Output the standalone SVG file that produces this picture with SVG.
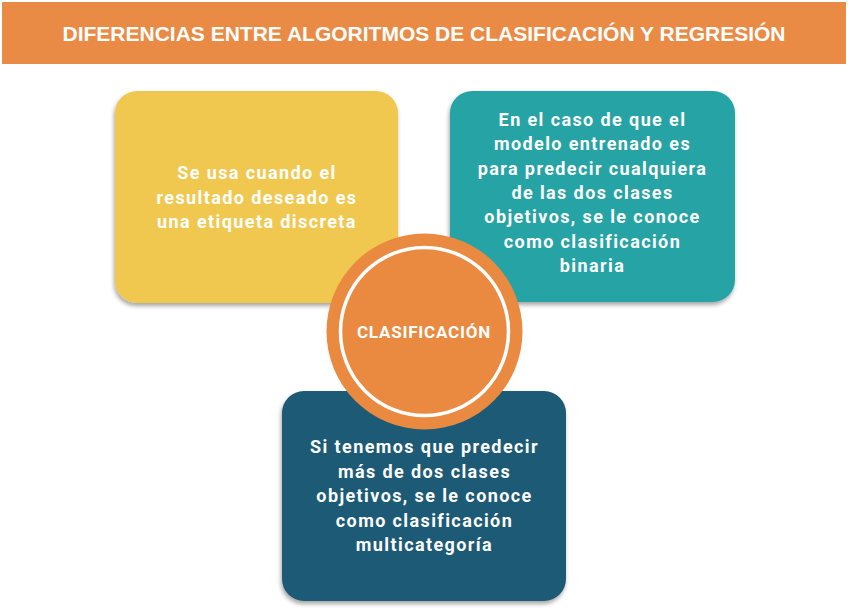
<svg xmlns="http://www.w3.org/2000/svg" width="848" height="613" viewBox="0 0 848 613">
<defs>
<style>
.t{font-family:Roboto,"Liberation Sans",sans-serif;font-weight:bold;fill:#ffffff;text-anchor:middle;font-size:18px;letter-spacing:1.4px}
.h{font-family:"Liberation Sans",Arial,sans-serif;font-weight:bold;fill:#ffffff;text-anchor:middle;font-size:21px}
</style>
<filter id="sh" x="-10%" y="-10%" width="120%" height="125%">
<feDropShadow dx="-1" dy="3" stdDeviation="2" flood-color="#000" flood-opacity="0.35"/>
</filter>
</defs>
<rect width="848" height="613" fill="#ffffff"/>
<g id="header">
<rect x="2" y="2" width="844" height="62" fill="#EA8B45"/>
<text class="h" x="424" y="41" textLength="723" lengthAdjust="spacingAndGlyphs">DIFERENCIAS ENTRE ALGORITMOS DE CLASIFICACIÓN Y REGRESIÓN</text>
</g>
<g id="connectors"></g>
<g id="yellow">
<rect x="115" y="91" width="283" height="212" rx="22" fill="#F1C850" filter="url(#sh)"/>
<text class="t" x="257" y="179">Se usa cuando el</text>
<text class="t" x="257" y="203.5">resultado deseado es</text>
<text class="t" x="257" y="228">una etiqueta discreta</text>
</g>
<g id="teal">
<rect x="450" y="91" width="285" height="211" rx="22" fill="#27A3A4" filter="url(#sh)"/>
<text class="t" x="592.5" y="126">En el caso de que el</text>
<text class="t" x="592.5" y="150.3">modelo entrenado es</text>
<text class="t" x="592.5" y="174.6">para predecir cualquiera</text>
<text class="t" x="592.5" y="198.9">de las dos clases</text>
<text class="t" x="592.5" y="223.2">objetivos, se le conoce</text>
<text class="t" x="592.5" y="247.5">como clasificación</text>
<text class="t" x="592.5" y="271.8">binaria</text>
</g>
<g id="darkblue">
<rect x="282" y="391" width="284" height="210" rx="22" fill="#1D5A74" filter="url(#sh)"/>
<text class="t" x="424.5" y="453">Si tenemos que predecir</text>
<text class="t" x="424.5" y="477.5">más de dos clases</text>
<text class="t" x="424.5" y="502">objetivos, se le conoce</text>
<text class="t" x="424.5" y="526.5">como clasificación</text>
<text class="t" x="424.5" y="551">multicategoría</text>
</g>
<g id="clasificacion">
<circle cx="424.5" cy="331.5" r="98" fill="#EA8A40"/>
<circle cx="424.5" cy="331.5" r="84" fill="#EA8A40" stroke="#ffffff" stroke-width="3.5"/>
<text class="t" x="424" y="338" style="font-size:17px;letter-spacing:0.8px">CLASIFICACIÓN</text>
</g>
</svg>
